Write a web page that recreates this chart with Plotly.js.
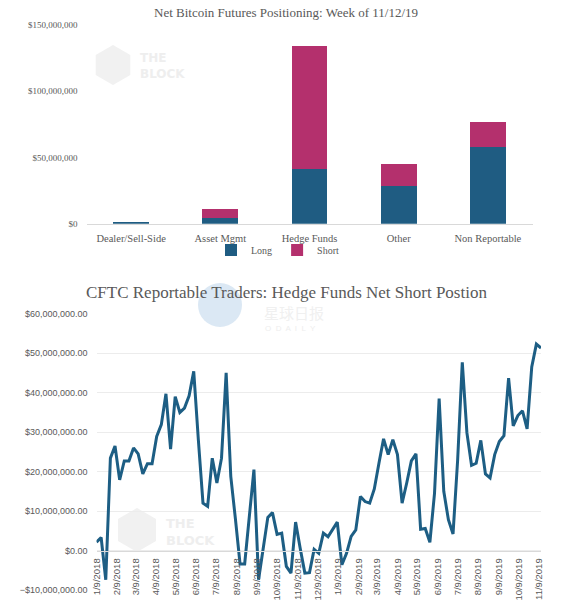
<!DOCTYPE html>
<html>
<head>
<meta charset="utf-8">
<script src="https://cdn.plot.ly/plotly-3.0.1.min.js"></script>
<style>
  html, body { margin: 0; padding: 0; background: #ffffff; }
  #chart { width: 562px; height: 612px; }
</style>
</head>
<body>
<div id="chart"></div>
<script>
// ---------- Top chart data ----------
const categories = ['Dealer/Sell-Side', 'Asset Mgmt', 'Hedge Funds', 'Other', 'Non Reportable'];
const longValues = [1.5e6, 4.6e6, 41.5e6, 28.8e6, 58.0e6];
const shortValues = [0, 6.5e6, 92.5e6, 16.5e6, 18.5e6];

// ---------- Bottom chart data (weekly) ----------
const weeks = [
  '2018-01-09','2018-01-16','2018-01-23','2018-01-30','2018-02-06','2018-02-13','2018-02-20','2018-02-27',
  '2018-03-06','2018-03-13','2018-03-20','2018-03-27','2018-04-03','2018-04-10','2018-04-17','2018-04-24',
  '2018-05-01','2018-05-08','2018-05-15','2018-05-22','2018-05-29','2018-06-05','2018-06-12','2018-06-19',
  '2018-06-26','2018-07-03','2018-07-10','2018-07-17','2018-07-24','2018-07-31','2018-08-07','2018-08-14',
  '2018-08-21','2018-08-28','2018-09-04','2018-09-11','2018-09-18','2018-09-25','2018-10-02','2018-10-09',
  '2018-10-16','2018-10-23','2018-10-30','2018-11-06','2018-11-13','2018-11-20','2018-11-27','2018-12-04',
  '2018-12-11','2018-12-18','2018-12-25','2019-01-01','2019-01-08','2019-01-15','2019-01-22','2019-01-29',
  '2019-02-05','2019-02-12','2019-02-19','2019-02-26','2019-03-05','2019-03-12','2019-03-19','2019-03-26',
  '2019-04-02','2019-04-09','2019-04-16','2019-04-23','2019-04-30','2019-05-07','2019-05-14','2019-05-21',
  '2019-05-28','2019-06-04','2019-06-11','2019-06-18','2019-06-25','2019-07-02','2019-07-09','2019-07-16',
  '2019-07-23','2019-07-30','2019-08-06','2019-08-13','2019-08-20','2019-08-27','2019-09-03','2019-09-10',
  '2019-09-17','2019-09-24','2019-10-01','2019-10-08','2019-10-15','2019-10-22','2019-10-29','2019-11-05',
  '2019-11-12'
];
const netShort = [
  2.1e6, 3.3e6, -7.4e6, 23.4e6, 26.5e6, 17.9e6, 22.7e6, 22.7e6,
  26.0e6, 24.5e6, 19.4e6, 22.0e6, 22.0e6, 28.9e6, 31.9e6, 39.7e6,
  25.7e6, 39.0e6, 35.0e6, 36.1e6, 39.2e6, 45.4e6, 28.0e6, 12.0e6,
  11.2e6, 23.4e6, 17.1e6, 23.4e6, 45.0e6, 18.8e6, 8.0e6, -3.4e6,
  -3.4e6, 8.5e6, 20.5e6, -7.4e6, 0.3e6, 8.4e6, 9.6e6, 4.1e6,
  4.4e6, -4.0e6, -5.7e6, 7.2e6, 0.5e6, -5.7e6, -5.6e6, 0.3e6,
  -0.7e6, 4.4e6, 3.5e6, 5.4e6, 7.2e6, -3.6e6, -0.7e6, 3.6e6,
  5.2e6, 13.7e6, 12.4e6, 12.0e6, 15.6e6, 22.1e6, 28.3e6, 24.3e6,
  28.1e6, 24.3e6, 12.0e6, 17.1e6, 22.7e6, 24.5e6, 5.4e6, 5.6e6,
  2.1e6, 14.5e6, 38.5e6, 15.0e6, 7.8e6, 4.2e6, 23.0e6, 47.7e6,
  29.8e6, 21.6e6, 22.1e6, 27.9e6, 19.4e6, 18.4e6, 24.3e6, 27.6e6,
  29.1e6, 43.7e6, 31.6e6, 34.2e6, 35.4e6, 30.8e6, 46.5e6, 52.3e6,
  51.3e6
];

const topTitle = 'Net Bitcoin Futures Positioning: Week of 11/12/19';
const bottomTitle = 'CFTC Reportable Traders: Hedge Funds Net Short Postion';

// ---------- Layout helpers ----------
const W = 562, H = 612;
const px = x => x / W;
const py = y => 1 - y / H;

const LONG_COLOR = '#1f5c82';
const SHORT_COLOR = '#b4306d';
const LINE_COLOR = '#1d5e84';
const SERIF = '"Liberation Serif", "DejaVu Serif", serif';
const SANS = '"Liberation Sans", Arial, sans-serif';
const GREY = '#595959';

const traces = [
  {
    type: 'bar', name: 'Long', x: categories, y: longValues,
    marker: { color: LONG_COLOR }, xaxis: 'x', yaxis: 'y', hoverinfo: 'skip'
  },
  {
    type: 'bar', name: 'Short', x: categories, y: shortValues,
    marker: { color: SHORT_COLOR }, xaxis: 'x', yaxis: 'y', hoverinfo: 'skip'
  },
  {
    type: 'scatter', mode: 'lines', name: 'Net Short', x: weeks, y: netShort,
    line: { color: LINE_COLOR, width: 3, shape: 'linear' },
    xaxis: 'x2', yaxis: 'y2', showlegend: false, hoverinfo: 'skip'
  }
];

// y2 fraction of zero value for the free x2 axis
const y2Dom = [py(590), py(313.7)];
const zeroPos = y2Dom[0] + (0 - (-10e6)) / (70e6) * (y2Dom[1] - y2Dom[0]);

const hexPath = (cx, cy, r) => {
  let d = '';
  for (let i = 0; i < 6; i++) {
    const a = Math.PI / 3 * i + Math.PI / 6;
    const x = px(cx + r * Math.cos(a));
    const y = py(cy + r * Math.sin(a));
    d += (i === 0 ? 'M' : 'L') + x + ',' + y;
  }
  return d + 'Z';
};

const layout = {
  width: W, height: H,
  margin: { l: 0, r: 0, t: 0, b: 0, pad: 0 },
  paper_bgcolor: '#ffffff', plot_bgcolor: 'rgba(0,0,0,0)',
  barmode: 'stack', bargap: 0.6,
  showlegend: true,
  title: {
    text: topTitle, x: px(286), xanchor: 'center', xref: 'paper',
    y: py(12.5), yanchor: 'middle', yref: 'container',
    font: { family: SERIF, size: 13, color: GREY }
  },
  legend: {
    orientation: 'h', traceorder: 'normal',
    x: px(278), xanchor: 'center', y: py(250), yanchor: 'middle',
    font: { family: SERIF, size: 10, color: GREY }, itemwidth: 30, tracegroupgap: 0,
    bgcolor: 'rgba(0,0,0,0)'
  },
  xaxis: {
    domain: [px(86.5), px(532.5)], anchor: 'y', type: 'category',
    showgrid: false, zeroline: false, showline: true, linecolor: '#d9d9d9', linewidth: 1,
    ticks: '', ticklabelstandoff: 5,
    tickfont: { family: SERIF, size: 10.5, color: GREY }, fixedrange: true
  },
  yaxis: {
    domain: [py(223.7), py(25)], anchor: 'x', range: [0, 150e6],
    tickmode: 'linear', tick0: 0, dtick: 50e6, tickformat: '$,.0f',
    showgrid: false, zeroline: false, showline: false, ticks: '', ticklabelstandoff: 8,
    tickfont: { family: SERIF, size: 9, color: GREY }, fixedrange: true
  },
  xaxis2: {
    domain: [px(96.5), px(541)], anchor: 'free', position: zeroPos, type: 'date',
    range: ['2018-01-09', '2019-11-12'],
    tickmode: 'linear', tick0: '2018-01-09', dtick: 'M1', tickformat: '%-m/%-d/%Y',
    tickangle: -90, ticks: '', ticklabelstandoff: 3,
    showgrid: false, zeroline: false, showline: true, linecolor: '#d9d9d9', linewidth: 1,
    tickfont: { family: SANS, size: 9.5, color: GREY }, fixedrange: true
  },
  yaxis2: {
    domain: y2Dom, anchor: 'x2', range: [-10e6, 60e6],
    tickmode: 'linear', tick0: -10e6, dtick: 10e6, tickformat: '$,.2f',
    showgrid: true, gridcolor: '#ececec', gridwidth: 1,
    zeroline: false, showline: false, ticks: '', ticklabelstandoff: 8,
    tickfont: { family: SANS, size: 9, color: GREY }, fixedrange: true
  },
  shapes: [
    // faint watermark hexagons
    { type: 'path', xref: 'paper', yref: 'paper', path: hexPath(113, 65, 20), fillcolor: '#f1f1f1', line: { width: 0 }, layer: 'below' },
    { type: 'path', xref: 'paper', yref: 'paper', path: hexPath(137, 530, 22), fillcolor: '#f1f1f1', line: { width: 0 }, layer: 'below' },
    // Odaily circle
    { type: 'circle', xref: 'paper', yref: 'paper', x0: px(198), x1: px(242), y0: py(327), y1: py(283), fillcolor: '#dbe8f4', line: { width: 0 }, layer: 'below' }
  ],
  annotations: [
    {
      text: bottomTitle, xref: 'paper', yref: 'paper', x: px(286), y: py(292.5),
      xanchor: 'center', yanchor: 'middle', showarrow: false,
      font: { family: SERIF, size: 17, color: GREY }
    },
    {
      text: '<b>THE<br>BLOCK</b>', xref: 'paper', yref: 'paper', x: px(138), y: py(66),
      xanchor: 'left', yanchor: 'middle', showarrow: false, align: 'left',
      font: { family: '"DejaVu Sans", sans-serif', size: 12, color: '#eeeeee' }
    },
    {
      text: '<b>THE<br>BLOCK</b>', xref: 'paper', yref: 'paper', x: px(164), y: py(532),
      xanchor: 'left', yanchor: 'middle', showarrow: false, align: 'left',
      font: { family: '"DejaVu Sans", sans-serif', size: 13, color: '#eeeeee' }
    },
    {
      text: '星球日报', xref: 'paper', yref: 'paper', x: px(262), y: py(312),
      xanchor: 'left', yanchor: 'middle', showarrow: false,
      font: { family: '"Noto Sans CJK SC", sans-serif', size: 15, color: '#f0f0f0' }
    },
    {
      text: 'O  D  A  I  L  Y', xref: 'paper', yref: 'paper', x: px(263), y: py(328),
      xanchor: 'left', yanchor: 'middle', showarrow: false,
      font: { family: SANS, size: 8, color: '#eeeeee' }
    }
  ]
};

Plotly.newPlot('chart', traces, layout, { displayModeBar: false, staticPlot: true });
</script>
</body>
</html>
